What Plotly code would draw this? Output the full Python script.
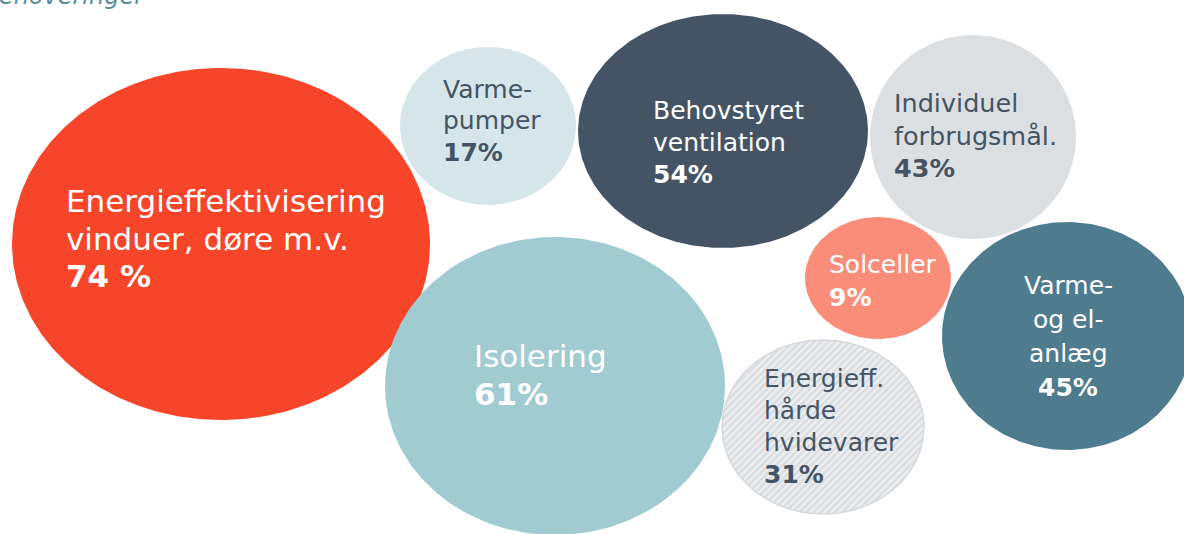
import numpy as np
import plotly.graph_objects as go

# ---- data ----
categories = [
    ["Energieffektivisering", "vinduer, døre m.v."],
    ["Isolering"],
    ["Varme-", "pumper"],
    ["Behovstyret", "ventilation"],
    ["Individuel", "forbrugsmål."],
    ["Solceller"],
    ["Varme-", "og el-", "anlæg"],
    ["Energieff.", "hårde", "hvidevarer"],
]
values = [74, 61, 17, 54, 43, 9, 45, 31]
value_labels = ["74 %", "61%", "17%", "54%", "43%", "9%", "45%", "31%"]

# ---- layout of bubbles (pixel-scale axes) ----
bubble_cx = [221, 555, 488, 723, 973, 878, 1067, 823]
bubble_cy = [244, 386, 126, 131, 137, 278, 336, 427]
bubble_rx = [209, 170, 88, 145, 103, 73, 125, 101]
bubble_ry = [176, 149, 79, 117, 102, 61, 114, 87]
fill_colors = ["#f64529", "#9fcbd1", "#d6e5e9", "#455464", "#dcdfe2",
               "#f98d7a", "#4e7b8e", "#d9dce0"]
text_colors = ["#ffffff", "#ffffff", "#455464", "#ffffff", "#455464",
               "#ffffff", "#ffffff", "#455464"]
hatched = [False, False, False, False, False, False, False, True]

# text placement: anchor x, first baseline, line spacing, font size, alignment
text_x = [65, 473, 442, 652, 893, 828, 1068, 763]
text_base = [212, 367, 98, 119, 112, 273, 294, 387]
text_step = [37.5, 38, 31.5, 32, 32.5, 33, 34, 32]
text_size = [31, 31, 25, 25, 25.5, 25, 25, 25]
text_align = ["left", "left", "left", "left", "left", "left", "center", "left"]

FONT = "DejaVu Sans, Verdana, sans-serif"
W, H = 1184, 534

fig = go.Figure()
theta = np.linspace(0, 2 * np.pi, 361)
for i in range(len(values)):
    xs = bubble_cx[i] + bubble_rx[i] * np.cos(theta)
    ys = bubble_cy[i] + bubble_ry[i] * np.sin(theta)
    kw = dict(x=xs, y=ys, mode="lines", fill="toself",
              fillcolor=fill_colors[i], hoverinfo="skip", showlegend=False,
              line=dict(width=0, color=fill_colors[i]))
    if hatched[i]:
        kw["fillpattern"] = dict(shape="/", bgcolor=fill_colors[i],
                                 fgcolor="#ffffff", size=5, solidity=0.5)
        kw["line"] = dict(width=1.5, color="#d6d9dc")
    fig.add_trace(go.Scatter(**kw))

annotations = []
for i in range(len(values)):
    lines = list(categories[i]) + ["<b>" + value_labels[i] + "</b>"]
    fs = text_size[i]
    for j, ln in enumerate(lines):
        base = text_base[i] + j * text_step[i]
        annotations.append(dict(
            x=text_x[i], y=base - 0.35 * fs, xref="x", yref="y",
            text=ln, showarrow=False,
            xanchor=text_align[i], yanchor="middle",
            font=dict(family=FONT, size=fs, color=text_colors[i]),
            borderpad=0,
        ))

# partially visible title at the top edge (mostly outside the picture, as in the reference)
title_fs = 24
annotations.append(dict(
    x=147 / W, y=1 - (4 - 0.35 * title_fs) / H, xref="paper", yref="paper",
    text="<i>renoveringer</i>",
    showarrow=False, xanchor="right", yanchor="middle",
    font=dict(family=FONT, size=title_fs, color="#5b8ca0"), borderpad=0,
))

fig.update_layout(
    width=W, height=H,
    margin=dict(l=0, r=0, t=0, b=0),
    paper_bgcolor="white", plot_bgcolor="white",
    xaxis=dict(range=[0, W], visible=False, fixedrange=True),
    yaxis=dict(range=[H, 0], visible=False, fixedrange=True),
    annotations=annotations,
    showlegend=False,
)

fig.write_html("out.html", config={"displayModeBar": False},
               post_script="document.body.style.margin='0';document.body.style.overflow='hidden';")
